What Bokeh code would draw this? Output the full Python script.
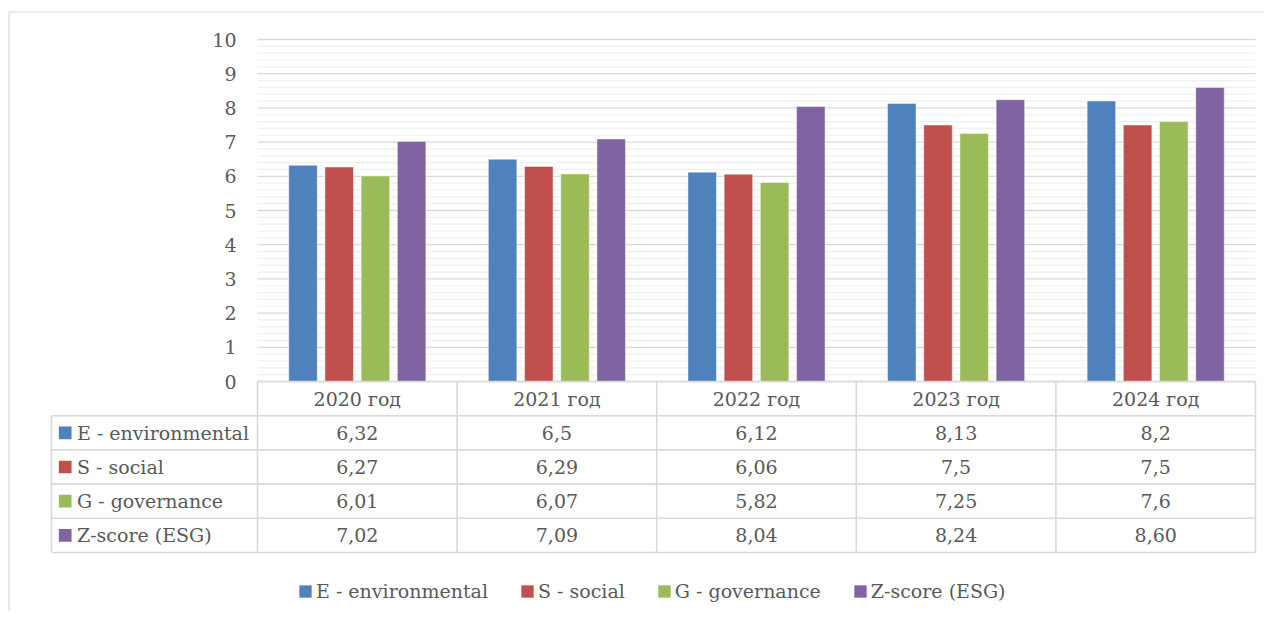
from bokeh.plotting import figure
from bokeh.models import Range1d, Legend, LegendItem
from bokeh.core.properties import value
from bokeh.embed import file_html
from bokeh.resources import INLINE

# ---------------- data ----------------
YEARS = ["2020 год", "2021 год", "2022 год", "2023 год", "2024 год"]
SERIES = ["E - environmental", "S - social", "G - governance", "Z-score (ESG)"]
E_VALUES = [6.32, 6.5, 6.12, 8.13, 8.2]
S_VALUES = [6.27, 6.29, 6.06, 7.5, 7.5]
G_VALUES = [6.01, 6.07, 5.82, 7.25, 7.6]
Z_VALUES = [7.02, 7.09, 8.04, 8.24, 8.60]
SERIES_DECIMALS = [None, None, None, 2]
Y_TICKS = [0, 1, 2, 3, 4, 5, 6, 7, 8, 9, 10]
Y_TICK_LABELS = ["0", "1", "2", "3", "4", "5", "6", "7", "8", "9", "10"]
COLORS = ["#4F81BD", "#C0504D", "#9BBB59", "#8064A2"]

VALUES = [E_VALUES, S_VALUES, G_VALUES, Z_VALUES]

# ---------------- layout ----------------
W, H = 1264, 611
PX_X0 = 257          # canvas x where the category axis starts
PX_PER_CAT = 199.6   # pixels per category
PX_Y0 = 381          # canvas y of value 0
PX_PER_UNIT = 34.2   # pixels per value unit
N = len(YEARS)

def dx(px):
    return px / PX_PER_CAT

def dy(px):
    return px / PX_PER_UNIT

FONT = "DejaVu Serif"
FSIZE = "19px"
TXT = "#595959"
LINE = "#d9d9d9"

p = figure(width=W, height=H,
           x_range=Range1d(-dx(PX_X0), dx(W - PX_X0)),
           y_range=Range1d(-dy(H - PX_Y0), dy(PX_Y0)),
           x_axis_type=None, y_axis_type=None,
           min_border=0, toolbar_location=None, tools="",
           output_backend="svg")
p.grid.visible = False
p.outline_line_color = None
p.background_fill_color = "white"
p.border_fill_color = "white"

# outer frame (left and top edges)
x_left = -dx(PX_X0 - 8.5)
y_top = dy(PX_Y0 - 11.5)
p.segment(x0=[x_left, x_left], y0=[y_top, y_top], x1=[x_left, dx(W)], y1=[-dy(H), y_top],
          line_color=LINE, line_width=1.2)

# gridlines
minor = [k * 0.2 for k in range(51) if k % 5 != 0]
p.segment(x0=[0] * len(minor), x1=[N] * len(minor), y0=minor, y1=minor,
          line_color="#f0f0f0", line_width=1.2)
p.segment(x0=[0] * len(Y_TICKS), x1=[N] * len(Y_TICKS), y0=Y_TICKS, y1=Y_TICKS,
          line_color=LINE, line_width=1.3)

# bars
BAR_STRIDE = dx(36.2)
BAR_W = dx(28.5)
renderers = []
for k, (vals, col) in enumerate(zip(VALUES, COLORS)):
    xs = [i + 0.5 + (k - 1.5) * BAR_STRIDE for i in range(N)]
    r = p.vbar(x=xs, top=vals, bottom=0, width=BAR_W, fill_color=col,
               line_color="white", line_alpha=0.45, line_width=1)
    renderers.append(r)

# y tick labels
p.text(x=[0] * len(Y_TICKS), y=Y_TICKS, text=Y_TICK_LABELS, x_offset=-21,
       text_align="right", text_baseline="middle",
       text_font=value(FONT), text_font_size=FSIZE, text_color=TXT)

# data table
label_left = -dx(206)
nrows = len(SERIES)
hy = [0] + [-(k + 1) for k in range(nrows + 1)]
hx0 = [0] + [label_left] * (nrows + 1)
p.segment(x0=hx0, x1=[N] * len(hy), y0=hy, y1=hy, line_color=LINE, line_width=1.6)
vx = list(range(N + 1)) + [label_left]
vy0 = [0] * (N + 1) + [-1]
p.segment(x0=vx, x1=vx, y0=vy0, y1=[-(nrows + 1)] * len(vx), line_color=LINE, line_width=1.6)

p.text(x=[i + 0.5 for i in range(N)], y=[-0.5] * N, text=YEARS,
       text_align="center", text_baseline="middle",
       text_font=value(FONT), text_font_size=FSIZE, text_color=TXT)

def fmt(v, dec):
    s = f"{v:.{dec}f}" if dec is not None else f"{v:g}"
    return s.replace(".", ",")

for k, (name, vals, col, dec) in enumerate(zip(SERIES, VALUES, COLORS, SERIES_DECIMALS)):
    yrow = -(k + 1.5)
    p.text(x=[i + 0.5 for i in range(N)], y=[yrow] * N, text=[fmt(v, dec) for v in vals],
           text_align="center", text_baseline="middle",
           text_font=value(FONT), text_font_size=FSIZE, text_color=TXT)
    p.rect(x=[label_left + dx(13.7)], y=[yrow], width=12.7, height=12.7,
           width_units="screen", height_units="screen", fill_color=col, line_color=None)
    p.text(x=[label_left], y=[yrow], text=[name], x_offset=25.5,
           text_align="left", text_baseline="middle",
           text_font=value(FONT), text_font_size=FSIZE, text_color=TXT)

# legend
legend = Legend(items=[LegendItem(label=s, renderers=[r]) for s, r in zip(SERIES, renderers)],
                orientation="horizontal", location=(297, 9),
                glyph_width=16, glyph_height=16, label_standoff=3, spacing=31,
                padding=0, margin=0, border_line_color=None, background_fill_alpha=0,
                label_text_font=FONT, label_text_font_size=FSIZE, label_text_color=TXT,
                label_height=16)
p.add_layout(legend)

open("out.html", "w").write(file_html(p, INLINE))
